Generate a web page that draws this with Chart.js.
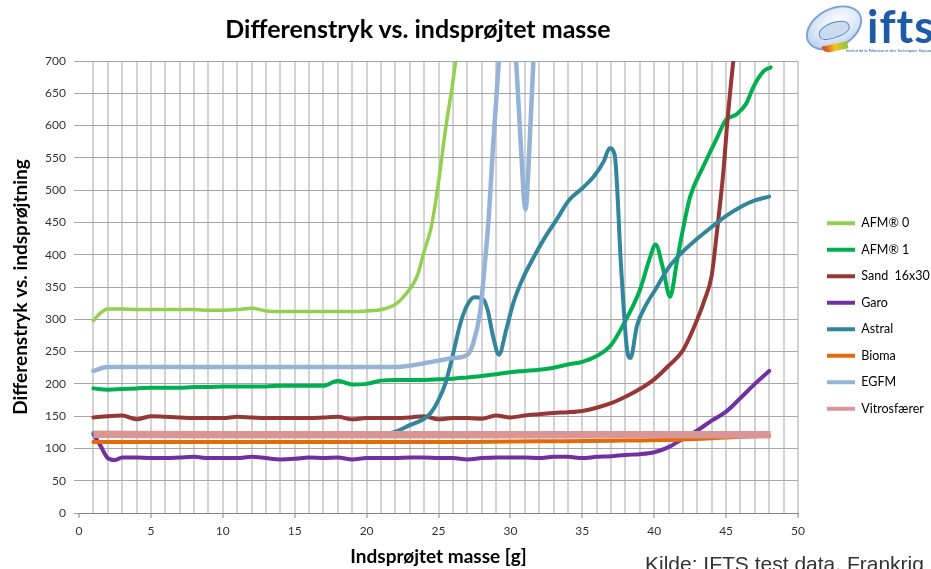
<!DOCTYPE html>
<html>
<head>
<meta charset="utf-8">
<script src="https://cdn.jsdelivr.net/npm/chart.js@4.4.1/dist/chart.umd.min.js"></script>
<style>
    html, body { margin: 0; padding: 0; background: #fff; overflow: hidden; }
    #wrap { position: relative; width: 931px; height: 569px; overflow: hidden; }
    #chart { position: absolute; left: 0; top: 0; }
    #title { position: absolute; left: 0; top: 13px; width: 836px; text-align: center;
             font: bold 25px Lato, sans-serif; line-height: 30px; color: #000; }
    #source { position: absolute; left: 645px; top: 553px; white-space: nowrap;
              font: 21px "Liberation Sans", Arial, sans-serif; line-height: 21px; color: #333; }
    /* logo (ifts) */
    #logo { position: absolute; left: 800px; top: 0; width: 131px; height: 58px; }
    #logo .swoosh { position: absolute; left: 4px; top: 8px; width: 56px; height: 36px; border-radius: 50%;
                    transform: rotate(-28deg); border: 2px solid #7aa3d6;
                    background: radial-gradient(ellipse at 60% 40%, #ffffff 0%, #dbe7f6 50%, #9cbbe4 100%); }
    #logo .hand { position: absolute; left: 18px; top: 22px; width: 30px; height: 14px; border-radius: 50% 50% 40% 40%;
                  background: #c9daf1; border: 1px solid #5d86c4; transform: rotate(-20deg); }
    #logo .ribbon { position: absolute; left: 22px; top: 44px; width: 26px; height: 7px; border-radius: 0 0 0 12px;
                    background: linear-gradient(90deg, #d9342b, #f0c419 50%, #8cc63f); transform: rotate(-12deg); }
    #logo .word { position: absolute; left: 67px; top: -1px; font: bold 45px Lato, sans-serif; color: #1d5aa8;
                  letter-spacing: 1px; }
    #logo .tag { position: absolute; left: 46px; top: 48px; font: 8px "Liberation Sans", sans-serif; color: #1d5aa8;
                 white-space: nowrap; transform: scale(0.5); transform-origin: 0 0; }
</style>
</head>
<body>
<div id="wrap">
    <canvas id="chart" width="931" height="569"></canvas>
    <div id="title">Differenstryk vs. indsprøjtet masse</div>
    <div id="logo">
        <div class="swoosh"></div>
        <div class="hand"></div>
        <div class="ribbon"></div>
        <div class="word">ifts</div>
        <div class="tag">Institut de la Filtration et des Techniques Séparatives</div>
    </div>
    <div id="source">Kilde: IFTS test data, Frankrig</div>
</div>
<script>
// --- data (x = indsprøjtet masse [g], y = differenstryk) ---
const seriesNames = ["AFM\u00ae 0", "AFM\u00ae 1", "Sand  16x30", "Garo", "Astral", "Bioma", "EGFM", "Vitrosfærer"];

const afm0Mass = [1, 1.5, 2, 3, 4, 5, 6, 7, 8, 9, 10, 11, 12, 13, 14, 15, 16, 17, 18, 19, 20, 21, 22, 23, 23.5, 24, 24.5, 25, 25.5, 26, 26.5];
const afm0Dp   = [298, 310, 316, 316, 315, 315, 315, 315, 315, 314, 314, 315, 317, 313, 312, 312, 312, 312, 312, 312, 313, 315, 323, 347, 366, 405, 443, 512, 596, 668, 750];

const afm1Mass = [1, 2, 3, 4, 5, 6, 7, 8, 9, 10, 11, 12, 13, 14, 15, 16, 17, 18, 19, 20, 21, 22, 23, 24, 25, 26, 27, 28, 29, 30,
                  31, 32, 33, 34, 35, 36, 37, 38, 39, 39.7, 40.1, 40.6, 41.1, 41.6, 41.9, 42.5, 43.4, 44.3, 45, 45.7, 46.4, 46.9, 47.6, 48.1];
const afm1Dp   = [193, 191, 192, 193, 194, 194, 194, 195, 195, 196, 196, 196, 196, 197, 197, 197, 197, 205, 199, 200, 205, 206, 206, 206, 207, 208, 210, 212, 215, 218,
                  220, 222, 225, 230, 234, 243, 260, 298, 345, 395, 416, 380, 335, 392, 428, 490, 536, 578, 609, 617, 634, 660, 684, 690];

const sandMass = [1, 2, 3, 4, 5, 6, 7, 8, 9, 10, 11, 12, 13, 14, 15, 16, 17, 18, 19, 20, 21, 22, 23, 24, 25, 26, 27, 28, 29, 30,
                  31, 32, 33, 34, 35, 36, 37, 38, 39, 40, 41, 42, 43, 43.5, 44, 44.4, 44.8, 45.1, 45.5, 46];
const sandDp   = [148, 150, 151, 145, 150, 149, 148, 147, 147, 147, 149, 148, 147, 147, 147, 147, 148, 149, 145, 147, 147, 147, 148, 150, 145, 147, 147, 146, 151, 148,
                  151, 153, 155, 156, 158, 163, 170, 180, 192, 207, 228, 252, 300, 330, 368, 443, 526, 609, 700, 800];

const garoMass = [1, 1.5, 2, 2.5, 3, 4, 5, 6, 7, 8, 9, 10, 11, 12, 13, 14, 15, 16, 17, 18, 19, 20, 21, 22, 23, 24, 25, 26, 27, 28,
                  29, 30, 31, 32, 33, 34, 35, 36, 37, 38, 39, 40, 41, 42, 43, 44, 45, 46, 47, 48];
const garoDp   = [122, 104, 85, 82, 86, 86, 85, 85, 86, 87, 85, 85, 85, 87, 85, 83, 84, 86, 85, 86, 83, 85, 85, 85, 86, 86, 85, 85, 83, 85,
                  86, 86, 86, 85, 87, 87, 85, 87, 88, 90, 91, 94, 102, 115, 128, 143, 157, 178, 200, 220];

const astralMass = [1, 2, 3, 4, 5, 6, 7, 8, 9, 10, 11, 12, 13, 14, 15, 16, 17, 18, 19, 20, 21, 22, 23, 24, 24.5, 25, 25.5, 26, 26.5, 27,
                    27.5, 28, 28.4, 28.8, 29.2, 29.7, 30.2, 30.8, 31.4, 32.3, 33.2, 34.1, 35, 35.8, 36.5, 36.9, 37.25, 37.7, 38.1, 38.35,
                    38.8, 39.5, 40, 41, 42, 43, 44, 45, 46, 47, 48];
const astralDp   = [124, 121, 121, 121, 121, 121, 121, 121, 121, 121, 121, 121, 121, 121, 121, 121, 121, 121, 121, 121, 121, 126, 136, 146, 156, 175, 202, 245, 292, 322,
                    334, 333, 316, 273, 245, 283, 325, 360, 387, 423, 454, 485, 503, 521, 545, 565, 555, 380, 255, 240,
                    290, 325, 343, 380, 405, 425, 443, 460, 474, 484, 490];

const biomaMass = [1, 5, 10, 15, 20, 25, 27, 32, 37, 42, 45, 48];
const biomaDp   = [110, 110, 110, 110, 110, 110, 110, 111, 112, 114, 117, 120];

const egfmMass = [1, 2, 3, 4, 5, 6, 7, 8, 9, 10, 11, 12, 13, 14, 15, 16, 17, 18, 19, 20, 21, 22, 23, 24, 25, 26, 27, 27.4, 27.9, 28.2,
                  28.5, 28.8, 29.2, 29.6, 30, 30.4, 30.7, 31.05, 31.35, 31.6, 32];
const egfmDp   = [220, 226, 226, 226, 226, 226, 226, 226, 226, 226, 226, 226, 226, 226, 226, 226, 226, 226, 226, 226, 226, 226, 228, 232, 236, 240, 245, 262, 312, 380,
                  460, 570, 700, 820, 820, 700, 580, 470, 580, 700, 850];

const vitroMass = [1, 10, 20, 30, 40, 48.1];
const vitroDp   = [122, 121, 121, 121, 121, 121];

const xTicks = [0, 5, 10, 15, 20, 25, 30, 35, 40, 45, 50];
const yTicks = [0, 50, 100, 150, 200, 250, 300, 350, 400, 450, 500, 550, 600, 650, 700];

// --- styles ---
const seriesColors = ["#92D050", "#00B050", "#953735", "#7030A0", "#31859C", "#E36C09", "#95B3D7", "#D99694"];
const seriesWidths = [3.5, 4, 4, 4, 4, 4, 4.5, 7.5];

const masses = [afm0Mass, afm1Mass, sandMass, garoMass, astralMass, biomaMass, egfmMass, vitroMass];
const values = [afm0Dp, afm1Dp, sandDp, garoDp, astralDp, biomaDp, egfmDp, vitroDp];

const datasets = seriesNames.map((name, i) => ({
    label: name,
    data: masses[i].map((m, j) => ({ x: m, y: values[i][j] })),
    borderColor: seriesColors[i],
    backgroundColor: seriesColors[i],
    borderWidth: seriesWidths[i],
    borderCapStyle: i === 7 ? "butt" : "round",
    borderJoinStyle: "round",
    pointRadius: 0,
    cubicInterpolationMode: "monotone",
    clip: { top: 0, left: 8, right: 8, bottom: 8 },
    order: seriesNames.length - i // later series drawn on top, like Excel
}));

// schubst die Legende rechts neben das Diagramm
const legendNudge = {
    id: "legendNudge",
    afterLayout(chart) {
        const lg = chart.legend;
        const area = chart.chartArea;
        const w = lg.width, h = lg.height;
        lg.left = area.right + 15;
        lg.right = lg.left + w;
        lg.top = area.top + 142;
        lg.bottom = lg.top + h;
    }
};

const tickFont = { family: "Lato, sans-serif", size: 12 };
const titleFont = { family: "Lato, sans-serif", size: 19, weight: "bold" };

new Chart(document.getElementById("chart"), {
    type: "line",
    data: { datasets: datasets },
    plugins: [legendNudge],
    options: {
        responsive: false,
        animation: false,
        layout: { padding: { top: 61, right: 133, bottom: 0, left: 0 } },
        scales: {
            x: {
                type: "linear",
                min: 0,
                max: 50,
                afterFit(scale) { scale.height = 56; },
                ticks: {
                    stepSize: 1,
                    maxTicksLimit: 60,
                    autoSkip: false,
                    maxRotation: 0,
                    padding: 6,
                    color: "#333",
                    font: tickFont,
                    callback: v => xTicks.includes(v) ? String(v) : ""
                },
                grid: {
                    color: ctx => (ctx.tick && ctx.tick.value === 0) ? "rgba(0,0,0,0)" : "#d3d3d3",
                    lineWidth: 2,
                    tickLength: 5,
                    tickWidth: 1,
                    tickColor: ctx => (ctx.tick && xTicks.includes(ctx.tick.value)) ? "#868686" : "rgba(0,0,0,0)"
                },
                border: { color: "#868686", width: 1 },
                title: {
                    display: true,
                    text: "Indsprøjtet masse [g]",
                    color: "#000",
                    font: titleFont,
                    padding: { top: 0, bottom: 1 }
                }
            },
            y: {
                min: 0,
                max: 700,
                afterFit(scale) { scale.width = 79; },
                afterBuildTicks(scale) { scale.ticks = yTicks.map(v => ({ value: v })); },
                ticks: {
                    stepSize: 50,
                    padding: 8,
                    color: "#333",
                    font: tickFont
                },
                grid: { color: "#a6a6a6", lineWidth: 1, tickLength: 5 },
                border: { display: false },
                title: {
                    display: true,
                    text: "Differenstryk vs. indsprøjtning",
                    color: "#000",
                    font: titleFont,
                    padding: { top: 9, bottom: 0 }
                }
            }
        },
        plugins: {
            title: { display: false },
            tooltip: { enabled: false },
            legend: {
                position: "chartArea",
                align: "start",
                labels: {
                    boxWidth: 28,
                    boxHeight: 4,
                    padding: 14,
                    color: "#000",
                    font: { family: "Lato, sans-serif", size: 12.5 },
                    generateLabels(chart) {
                        const items = Chart.defaults.plugins.legend.labels.generateLabels(chart);
                        items.forEach(it => { it.fillStyle = it.strokeStyle; it.lineWidth = 0; });
                        return items.sort((a, b) => a.datasetIndex - b.datasetIndex);
                    }
                }
            }
        }
    }
});
</script>
</body>
</html>
